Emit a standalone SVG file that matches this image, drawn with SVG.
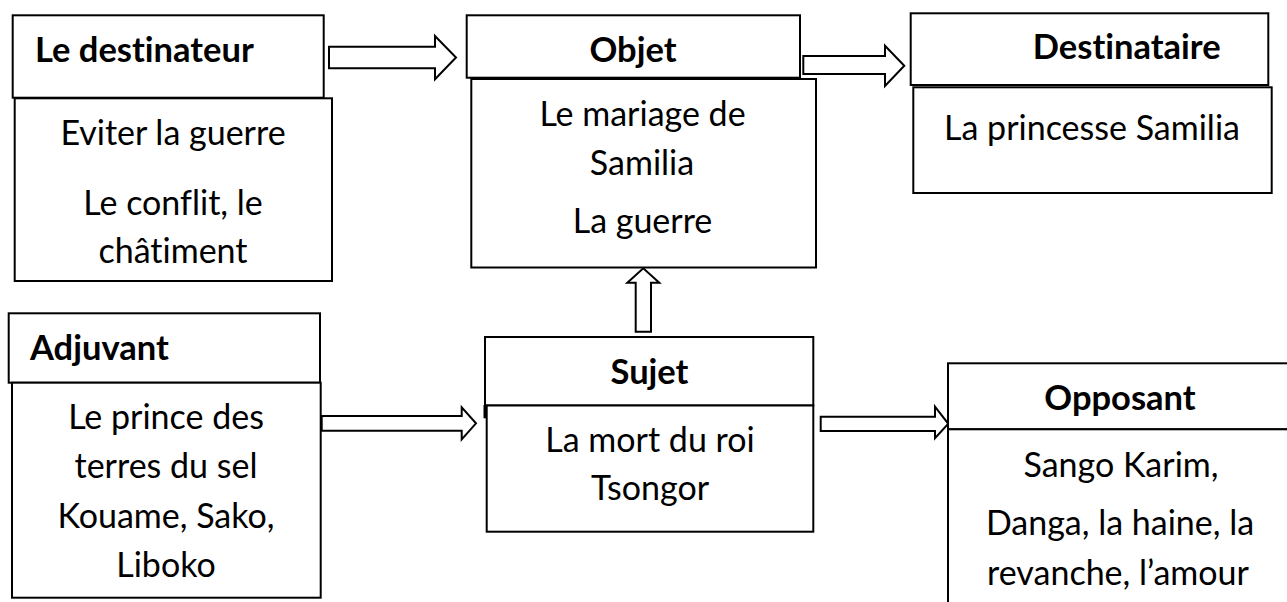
<svg xmlns="http://www.w3.org/2000/svg" width="1287" height="602" viewBox="0 0 1287 602">
  <style>
    .box { fill: #ffffff; stroke: #000000; stroke-width: 2; }
    .arrow { fill: #ffffff; stroke: #000000; stroke-width: 2; stroke-linejoin: miter; }
    .t { font-family: Lato, "Open Sans", "Liberation Sans", sans-serif; font-size: 34px; fill: #000000; font-variant-ligatures: none; }
    .c { text-anchor: middle; }
    .b { font-weight: bold; font-size: 34.5px; }
  </style>
  <rect width="1287" height="602" fill="#ffffff"/>

  <!-- Block arrows between the actants -->
  <g id="connectors">
    <polygon class="arrow" points="329,46.7 435,46.7 435,36 456,57.5 435,79.3 435,68.3 329,68.3"/>
    <polygon class="arrow" points="803.3,56 885,56 885,45.7 904.3,65.8 885,86 885,74 803.3,74"/>
    <polygon class="arrow" points="321.7,416 461.7,416 461.7,407.3 476,423.3 461.7,439.3 461.7,430.7 321.7,430.7"/>
    <polygon class="arrow" points="635.7,331.7 635.7,282.7 627.3,282.7 643.3,268.3 659.3,282.7 651,282.7 651,331.7"/>
    <polygon class="arrow" points="820.7,416.7 935,416.7 935,406.7 948.3,423.8 935,438.3 935,431 820.7,431"/>
  </g>

  <g id="destinateur">
    <rect class="box" x="12.7" y="15.3" width="311" height="82.4"/>
    <rect class="box" x="14.7" y="98.3" width="317.3" height="182.7"/>
    <text class="t b" x="35" y="61.7">Le destinateur</text>
    <text class="t c" x="173" y="145">Eviter la guerre</text>
    <text class="t c" x="173" y="215">Le conflit, le</text>
    <text class="t c" x="173" y="263.3">châtiment</text>
  </g>

  <g id="objet">
    <rect class="box" x="466.7" y="15.3" width="333.3" height="62.4"/>
    <rect class="box" x="471.3" y="79" width="344.7" height="188.5"/>
    <text class="t b c" x="633" y="61.7">Objet</text>
    <text class="t c" x="642.5" y="126">Le mariage de</text>
    <text class="t c" x="642" y="175">Samilia</text>
    <text class="t c" x="642.5" y="233">La guerre</text>
  </g>

  <g id="destinataire">
    <rect class="box" x="910.7" y="13.3" width="357.6" height="71.7"/>
    <rect class="box" x="913.3" y="87.3" width="358.4" height="105.7"/>
    <text class="t b c" x="1126.7" y="59.3">Destinataire</text>
    <text class="t c" x="1092" y="140">La princesse Samilia</text>
  </g>

  <g id="adjuvant">
    <rect class="box" x="8.7" y="313.3" width="311.3" height="69.4"/>
    <rect class="box" x="12" y="382.7" width="308.7" height="215"/>
    <text class="t b" x="30" y="360">Adjuvant</text>
    <text class="t c" x="166" y="429">Le prince des</text>
    <text class="t c" x="166" y="478.3">terres du sel</text>
    <text class="t c" x="166" y="528.3">Kouame, Sako,</text>
    <text class="t c" x="166" y="577.3">Liboko</text>
  </g>

  <g id="sujet">
    <rect class="box" x="485" y="337" width="328.3" height="68.5"/>
    <rect class="box" x="486.7" y="405.5" width="326.6" height="126.2"/>
    <line x1="485" y1="405" x2="485" y2="418.3" stroke="#000000" stroke-width="3"/>
    <text class="t b c" x="649.5" y="384">Sujet</text>
    <text class="t c" x="650" y="451.7">La mort du roi</text>
    <text class="t c" x="650" y="500">Tsongor</text>
  </g>

  <g id="opposant">
    <rect class="box" x="948" y="363.3" width="345" height="66"/>
    <rect class="box" x="948" y="429.3" width="345" height="185"/>
    <text class="t b c" x="1120" y="410">Opposant</text>
    <text class="t c" x="1121" y="477">Sango Karim,</text>
    <text class="t c" x="1120" y="535">Danga, la haine, la</text>
    <text class="t c" x="1118" y="585">revanche, l’amour</text>
  </g>
</svg>
